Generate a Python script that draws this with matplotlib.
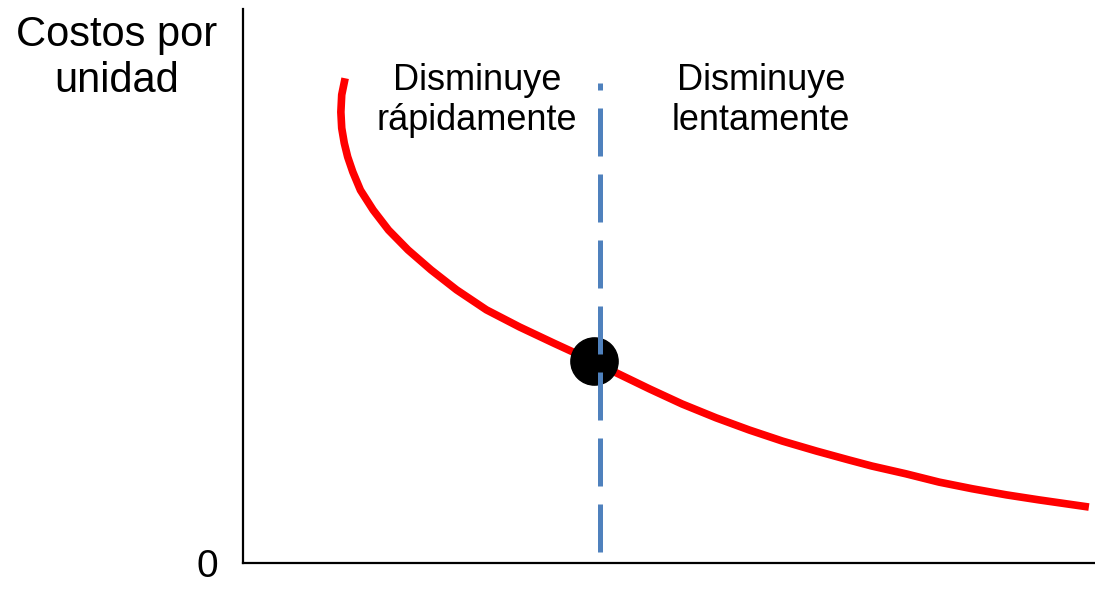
import matplotlib
matplotlib.use("Agg")
import matplotlib.pyplot as plt

plt.rcParams['font.family'] = ['Liberation Sans', 'DejaVu Sans']

# curva de costos por unidad
cantidad = [1.20, 1.16, 1.15, 1.16, 1.19, 1.23, 1.29, 1.38, 1.53, 1.71,
            1.94, 2.21, 2.51, 2.86, 3.25, 3.65, 4.13, 4.39, 4.78, 5.16,
            5.56, 5.95, 6.34, 6.74, 7.12, 7.39, 7.79, 8.18, 8.57, 8.97,
            9.35, 9.94]
costo = [8.75, 8.45, 8.14, 7.85, 7.58, 7.33, 7.06, 6.73, 6.37, 6.01,
         5.65, 5.29, 4.93, 4.57, 4.26, 3.97, 3.63, 3.43, 3.14, 2.87,
         2.62, 2.40, 2.20, 2.02, 1.86, 1.75, 1.61, 1.46, 1.34, 1.23,
         1.14, 1.01]

# punto de cambio
punto_x = [4.13]
punto_y = [3.65]

# linea divisoria
corte_x = [4.20, 4.20]
corte_y = [0.20, 8.66]

etiquetas = ['Disminuye\nrápidamente', 'Disminuye\nlentamente']
etiquetas_x = [2.75, 6.09]

fig = plt.figure(figsize=(10.95, 6.02), dpi=100)
ax = fig.add_axes([243 / 1095, 39 / 602, 851 / 1095, 554 / 602])

ax.plot(cantidad, costo, color='#ff0000', lw=5.5, solid_capstyle='butt',
        solid_joinstyle='round', zorder=2)
ax.plot(punto_x, punto_y, 'o', color='black', markersize=34, zorder=3)
ax.plot(corte_x, corte_y, color='#4f81bd', lw=3.6, dashes=(9.6, 3.6),
        dash_capstyle='butt', zorder=4)

for t, x in zip(etiquetas, etiquetas_x):
    ax.text(x, 9.03, t, ha='center', va='top', fontsize=26)

ax.set_xlim(0, 10)
ax.set_ylim(0, 10)
ax.spines['top'].set_visible(False)
ax.spines['right'].set_visible(False)
ax.spines['left'].set_linewidth(1.6)
ax.spines['bottom'].set_linewidth(1.6)
ax.set_xticks([])
ax.set_yticks([0])
ax.set_yticklabels(['0'], fontsize=28)
ax.tick_params(axis='y', length=0, pad=18)

fig.text(117 / 1095, 1 - 15 / 602, 'Costos por\nunidad', ha='center', va='top',
         fontsize=30)

fig.savefig('out.png', dpi=100)
